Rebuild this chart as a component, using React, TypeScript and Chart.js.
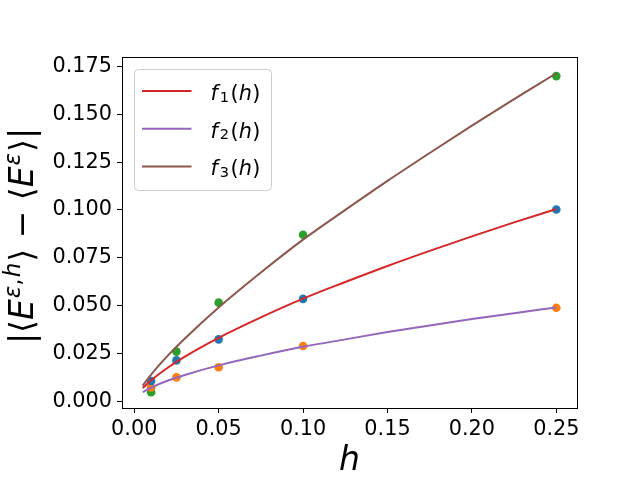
import React, { useEffect, useRef } from 'react';
import { Chart, registerables } from 'chart.js';
import type { ChartConfiguration, Plugin } from 'chart.js';

Chart.register(...registerables);

// measured step sizes h and the errors at each one
const stepH = [0.01, 0.025, 0.05, 0.1, 0.25];
const errBlue = [0.0105, 0.0213, 0.0323, 0.0535, 0.1002];
const errOrange = [0.0072, 0.0124, 0.0177, 0.0288, 0.0488];
const errGreen = [0.0047, 0.0259, 0.0515, 0.087, 0.17];

// fitted curves
const curveH = [0.005, 0.01, 0.02, 0.03, 0.05, 0.075, 0.1, 0.125, 0.15, 0.175, 0.2, 0.225, 0.25];
const f1Vals = [0.0068, 0.0109, 0.0176, 0.0233, 0.0331, 0.0438, 0.0536, 0.0623, 0.0707, 0.0786, 0.0862, 0.0935, 0.1005];
const f2Vals = [0.0047, 0.0071, 0.0108, 0.0137, 0.0187, 0.0238, 0.0284, 0.0323, 0.0361, 0.0396, 0.0429, 0.046, 0.049];
const f3Vals = [0.0081, 0.0139, 0.0239, 0.0328, 0.049, 0.0673, 0.0845, 0.1, 0.1152, 0.1298, 0.1441, 0.158, 0.1715];

const xTickStep = 0.05;
const yTickStep = 0.025;

const FONT = '"DejaVu Sans", sans-serif';

// one run of text: italic, super/subscript, extra gap after it
type Seg = { t: string; it?: boolean; s?: 'sup' | 'sub'; gap?: number };

function drawRich(ctx: CanvasRenderingContext2D, segs: Seg[], x: number, y: number, size: number, align: 'left' | 'center') {
  const fontOf = (g: Seg) => `${g.it ? 'italic ' : ''}${g.s ? size * 0.7 : size}px ${FONT}`;
  const widths = segs.map((g) => {
    ctx.font = fontOf(g);
    return ctx.measureText(g.t).width + (g.gap || 0);
  });
  const total = widths.reduce((a, b) => a + b, 0);
  let cx = align === 'center' ? x - total / 2 : x;
  ctx.textAlign = 'left';
  ctx.textBaseline = 'alphabetic';
  segs.forEach((g, i) => {
    ctx.font = fontOf(g);
    const dy = g.s === 'sup' ? -size * 0.4 : g.s === 'sub' ? size * 0.08 : 0;
    ctx.fillText(g.t, cx, y + dy);
    cx += widths[i];
  });
}

const fLabel = (n: string): Seg[] => [
  { t: 'f', it: true, gap: 2 },
  { t: n, s: 'sub', gap: 1.5 },
  { t: '(' },
  { t: 'h', it: true, gap: 0.5 },
  { t: ')' },
];

const legendItems: { color: string; segs: Seg[] }[] = [
  { color: '#d62728', segs: fLabel('1') },
  { color: '#9467bd', segs: fLabel('2') },
  { color: '#8c564b', segs: fLabel('3') },
];

const yLabel: Seg[] = [
  { t: '|⟨' },
  { t: 'E', it: true, gap: 1 },
  { t: 'ε', it: true, s: 'sup' },
  { t: ',', s: 'sup', gap: 1 },
  { t: 'h', it: true, s: 'sup', gap: 1 },
  { t: '⟩ − ⟨' },
  { t: 'E', it: true, gap: 1 },
  { t: 'ε', it: true, s: 'sup', gap: 1 },
  { t: '⟩|' },
];

const framePlugin: Plugin<'scatter'> = {
  id: 'frame',
  afterDatasetsDraw(chart) {
    const { ctx, chartArea } = chart;
    ctx.save();
    // legend box, drawn over the data like matplotlib does
    const lx = chartArea.left + 12.5;
    const ly = chartArea.top + 12.5;
    const lw = 137;
    const lh = 121;
    ctx.beginPath();
    ctx.roundRect(lx, ly, lw, lh, 4);
    ctx.fillStyle = 'rgba(255,255,255,0.8)';
    ctx.fill();
    ctx.strokeStyle = '#cccccc';
    ctx.lineWidth = 1;
    ctx.stroke();
    legendItems.forEach((item, i) => {
      const rowY = ly + 21.5 + i * 37.7;
      ctx.beginPath();
      ctx.moveTo(lx + 7.5, rowY);
      ctx.lineTo(lx + 57, rowY);
      ctx.strokeStyle = item.color;
      ctx.lineWidth = 2;
      ctx.stroke();
      ctx.fillStyle = '#000';
      drawRich(ctx, item.segs, lx + 76, rowY + 9, 20.8, 'left');
    });
    ctx.restore();
  },
  afterDraw(chart) {
    const { ctx, chartArea } = chart;
    ctx.save();
    ctx.strokeStyle = '#000';
    ctx.lineWidth = 1;
    ctx.strokeRect(Math.round(chartArea.left) + 0.5, Math.round(chartArea.top) + 0.5,
      Math.round(chartArea.right - chartArea.left), Math.round(chartArea.bottom - chartArea.top));
    ctx.fillStyle = '#000';
    // x label
    drawRich(ctx, [{ t: 'h', it: true }], (chartArea.left + chartArea.right) / 2, 470, 33, 'center');
    // y label
    ctx.translate(33, 236);
    ctx.rotate(-Math.PI / 2);
    drawRich(ctx, yLabel, 0, 0, 33, 'center');
    ctx.restore();
  },
};

const toPts = (xs: number[], ys: number[]) => xs.map((x, i) => ({ x, y: ys[i] }));

export default function App() {
  const canvasRef = useRef<HTMLCanvasElement | null>(null);

  useEffect(() => {
    document.body.style.margin = '0';
    const canvas = canvasRef.current;
    if (!canvas) return;
    const ctx = canvas.getContext('2d');
    if (!ctx) return;

    const lineDs = (data: number[], color: string) => ({
      data: toPts(curveH, data),
      showLine: true,
      borderColor: color,
      borderWidth: 2,
      pointRadius: 0,
      cubicInterpolationMode: 'monotone' as const,
      order: 0,
    });
    const dotDs = (data: number[], color: string) => ({
      data: toPts(stepH, data),
      showLine: false,
      backgroundColor: color,
      borderWidth: 0,
      pointRadius: 4.3,
      order: 1,
    });

    const tickFont = { family: FONT, size: 20.8 };

    const config: ChartConfiguration<'scatter'> = {
      type: 'scatter',
      data: {
        datasets: [
          dotDs(errBlue, '#1f77b4'),
          dotDs(errOrange, '#ff7f0e'),
          dotDs(errGreen, '#2ca02c'),
          lineDs(f1Vals, '#d62728'),
          lineDs(f2Vals, '#9467bd'),
          lineDs(f3Vals, '#8c564b'),
        ] as any,
      },
      options: {
        responsive: false,
        animation: false,
        layout: { padding: { left: 0, top: 57, right: 63, bottom: 0 } },
        plugins: { legend: { display: false }, tooltip: { enabled: false } },
        scales: {
          x: {
            type: 'linear',
            min: -0.00725,
            max: 0.26225,
            afterFit: (s: any) => { s.height = 72; },
            border: { display: false },
            grid: { drawOnChartArea: false, drawTicks: true, tickLength: 5, color: '#000' },
            ticks: {
              stepSize: xTickStep,
              includeBounds: false,
              autoSkip: false,
              maxRotation: 0,
              padding: 4,
              color: '#000',
              font: tickFont,
              callback: (v) => Number(v).toFixed(2),
            },
          },
          y: {
            type: 'linear',
            min: -0.0036,
            max: 0.18,
            afterFit: (s: any) => { s.width = 122; },
            border: { display: false },
            grid: { drawOnChartArea: false, drawTicks: true, tickLength: 5, color: '#000' },
            ticks: {
              stepSize: yTickStep,
              includeBounds: false,
              autoSkip: false,
              padding: 5,
              color: '#000',
              font: tickFont,
              callback: (v) => Number(v).toFixed(3),
            },
          },
        },
      },
      plugins: [framePlugin],
    };

    const chart = new Chart(ctx, config);
    return () => chart.destroy();
  }, []);

  return (
    <div style={{ width: 640, height: 480, background: '#fff' }}>
      <canvas ref={canvasRef} width={640} height={480} style={{ display: 'block' }} />
    </div>
  );
}
